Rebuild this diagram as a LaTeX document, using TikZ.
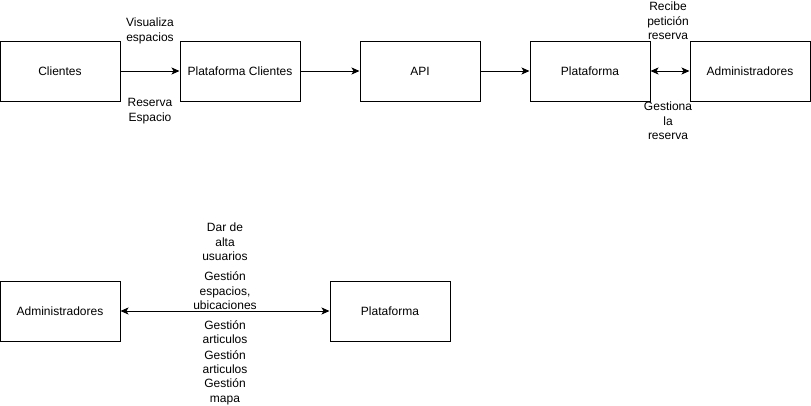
\documentclass[tikz,border=0pt]{standalone}
\usepackage{fontspec}
\setmainfont{Liberation Sans}
\usetikzlibrary{arrows.meta}
\tikzset{
  box/.style={draw, line width=1pt, minimum width=120pt, minimum height=60pt, inner sep=0pt},
  lbl/.style={align=center, inner sep=0pt, font=\fontsize{12}{14.5}\selectfont},
  tip/.tip={Stealth[length=8pt,width=7pt,inset=2pt]},
}
\begin{document}
\begin{tikzpicture}[x=1pt,y=-1pt, font=\fontsize{12}{14.5}\selectfont]
      \useasboundingbox (0,0) rectangle (811,405);

      \node (cli) [box] at (60,71)  {Clientes};
      \node (pcli) [box] at (240,71) {Plataforma Clientes};
      \node (api) [box] at (420,71) {API};
      \node (plat) [box] at (590,71) {Plataforma};
      \node (adm) [box] at (750,71) {Administradores};

      \node (adm2) [box] at (60,311)  {Administradores};
      \node (plat2) [box] at (390,311) {Plataforma};

      \draw [-tip, line width=1pt] (cli.east) -- (pcli.west);
      \draw [-tip, line width=1pt] (pcli.east) -- (api.west);
      \draw [-tip, line width=1pt] (api.east) -- (plat.west);
      \draw [tip-tip, line width=1pt] (plat.east) -- (adm.west);
      \draw [tip-tip, line width=1pt] (adm2.east) -- (plat2.west);

      \node (vis) [lbl] at (150,31) {Visualiza\\espacios};
      \node (res) [lbl] at (150,111) {Reserva\\Espacio};
      \node (rec) [lbl] at (668,21) {Recibe\\petición\\reserva};
      \node (ges) [lbl] at (668,121) {Gestiona\\la\\reserva};

      \node (alta) [lbl] at (225,242) {Dar de\\alta\\usuarios};
      \node (gesp) [lbl] at (225,291) {Gestión\\espacios,\\ubicaciones};
      \node (gart) [lbl] at (225,332) {Gestión\\articulos};
      \node (gart2) [lbl] at (225,362) {Gestión\\articulos};
      \node (gmap) [lbl] at (225,392) {Gestión\\mapa};
    \end{tikzpicture}
\end{document}
